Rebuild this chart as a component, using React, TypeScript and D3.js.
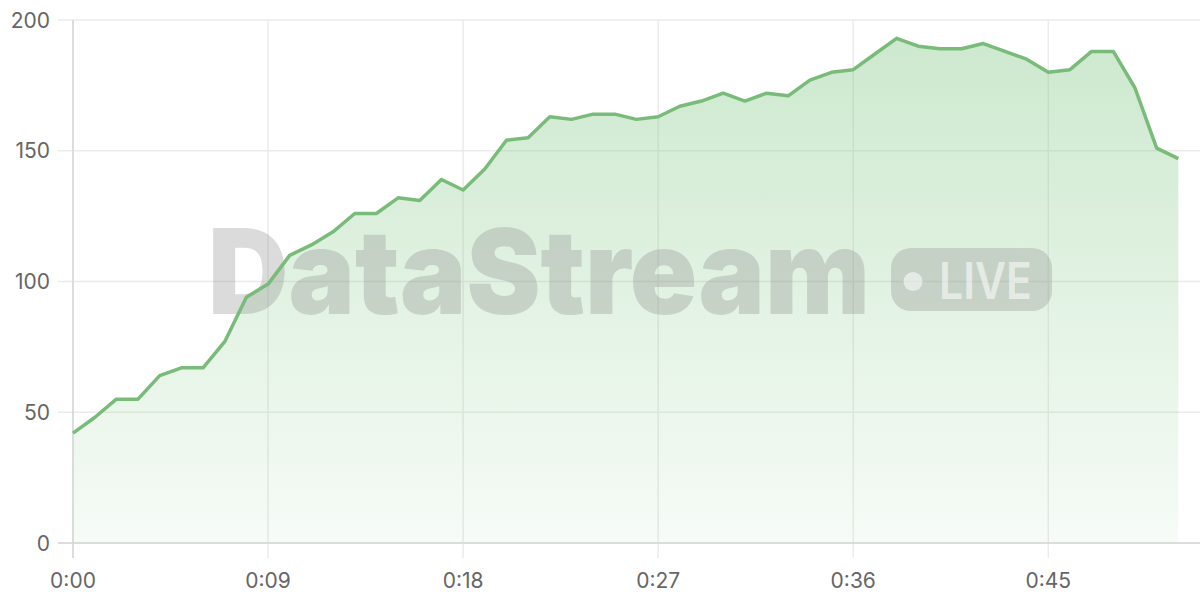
import React from "react";
import * as d3 from "d3";

const seconds: number[] = Array.from({ length: 52 }, (_, i) => i);
const values: number[] = [
  42, 48, 55, 55, 64, 67, 67, 77, 94, 99,
  110, 114, 119, 126, 126, 132, 131, 139, 135, 143,
  154, 155, 163, 162, 164, 164, 162, 163, 167, 169,
  172, 169, 172, 171, 177, 180, 181, 187, 193, 190,
  189, 189, 191, 188, 185, 180, 181, 188, 188, 174,
  151, 147,
];
const xTickValues: number[] = [0, 9, 18, 27, 36, 45];
const yTickValues: number[] = [0, 50, 100, 150, 200];
const watermarkText = "DataStream";
const badgeText = "LIVE";

const W = 1200;
const H = 600;
const FONT = "Inter, 'Noto Sans', sans-serif";

function fmtTime(s: number): string {
  const m = Math.floor(s / 60);
  const r = s % 60;
  return `${m}:${r.toString().padStart(2, "0")}`;
}

export default function App() {
  const x = d3.scaleLinear().domain([0, 52]).range([73, 1200]);
  const y = d3.scaleLinear().domain([0, 200]).range([543, 20]);
  const data = seconds.map((s, i) => ({ s, v: values[i] }));

  const line = d3
    .line<{ s: number; v: number }>()
    .x((d) => x(d.s))
    .y((d) => y(d.v));
  const area = d3
    .area<{ s: number; v: number }>()
    .x((d) => x(d.s))
    .y0(y(0))
    .y1((d) => y(d.v));

  return (
    <svg
      width={W}
      height={H}
      style={{ position: "absolute", left: 0, top: 0, background: "#fff" }}
    >
      <defs>
        <linearGradient id="fillGrad" x1="0" y1="0" x2="0" y2="1">
          <stop offset="0%" stopColor="#81c784" stopOpacity={0.4} />
          <stop offset="100%" stopColor="#81c784" stopOpacity={0.07} />
        </linearGradient>
      </defs>

      {yTickValues.map((t) => (
        <line
          key={"gy" + t}
          x1={58}
          x2={1200}
          y1={y(t)}
          y2={y(t)}
          stroke="#ebebeb"
          strokeWidth={1.5}
        />
      ))}
      {xTickValues.map((t) => (
        <line
          key={"gx" + t}
          x1={x(t)}
          x2={x(t)}
          y1={20}
          y2={558}
          stroke="#ebebeb"
          strokeWidth={1.5}
        />
      ))}

      <path d={area(data) || ""} fill="url(#fillGrad)" />

      <g opacity={0.3}>
        <text
          x={208}
          y={314}
          fontFamily={FONT}
          fontWeight={900}
          fontSize={118}
          letterSpacing={0}
          textLength={662}
          lengthAdjust="spacingAndGlyphs"
          fill="#8a8a8a"
        >
          {watermarkText}
        </text>
        <rect x={891} y={248} width={161} height={63} rx={20} fill="#8a8a8a" />
      </g>
      <g opacity={0.55}>
        <circle cx={913} cy={281.5} r={9.5} fill="#fff" />
        <text
          x={939}
          y={298.5}
          fontFamily={FONT}
          fontWeight={600}
          fontSize={51}
          textLength={93}
          lengthAdjust="spacingAndGlyphs"
          fill="#fff"
        >
          {badgeText}
        </text>
      </g>

      <line x1={73} x2={73} y1={20} y2={558} stroke="#d6d6d6" strokeWidth={1.5} />
      <line x1={58} x2={1200} y1={543} y2={543} stroke="#d6d6d6" strokeWidth={1.5} />

      <path
        d={line(data) || ""}
        fill="none"
        stroke="#79bb79"
        strokeWidth={3.5}
        strokeLinejoin="round"
      />

      {yTickValues.map((t) => (
        <text
          key={"ly" + t}
          x={50}
          y={y(t)}
          dy="0.36em"
          textAnchor="end"
          fontFamily={FONT}
          fontSize={21}
          fill="#666"
        >
          {t}
        </text>
      ))}
      {xTickValues.map((t) => (
        <text
          key={"lx" + t}
          x={x(t)}
          y={588}
          textAnchor="middle"
          fontFamily={FONT}
          fontSize={21}
          fill="#666"
        >
          {fmtTime(t)}
        </text>
      ))}
    </svg>
  );
}
